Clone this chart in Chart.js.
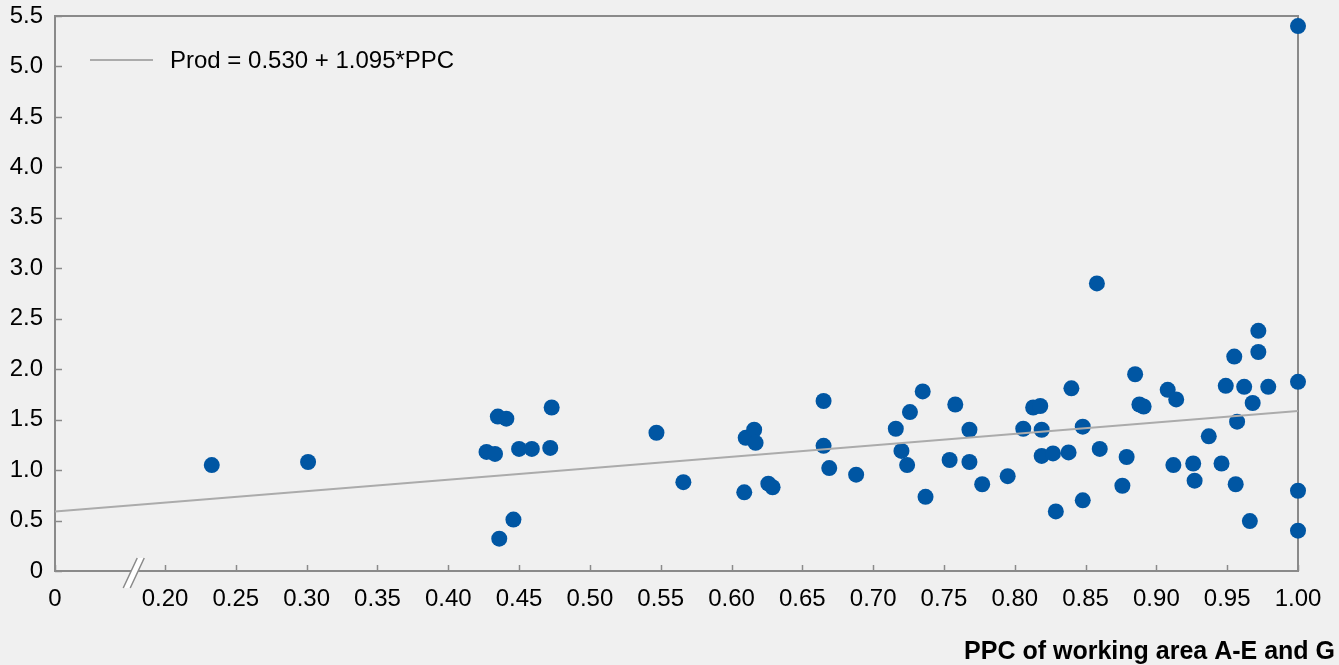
<!DOCTYPE html>
<html>
<head>
<meta charset="utf-8">
<script src="https://cdn.jsdelivr.net/npm/chart.js@4/dist/chart.umd.min.js"></script>
<style>
  html, body { margin: 0; padding: 0; background: #f0f0f0; }
  #wrap { position: relative; width: 1339px; height: 665px; }
</style>
</head>
<body>
<div id="wrap"><canvas id="prodChart"></canvas></div>
<script>
// PPC of working area (x) and productivity (y), one entry per site
const ppc = [
  0.233, 0.301, 0.427, 0.433, 0.435, 0.441, 0.450, 0.459, 0.472, 0.473,
  0.446, 0.436, 0.547, 0.566, 0.609, 0.610, 0.616, 0.617, 0.626, 0.629,
  0.665, 0.665, 0.669, 0.688, 0.716, 0.720, 0.724, 0.726, 0.735, 0.737,
  0.754, 0.758, 0.768, 0.768, 0.777, 0.795, 0.806, 0.813, 0.818, 0.819,
  0.819, 0.827, 0.829, 0.838, 0.840, 0.848, 0.848, 0.860, 0.858, 0.885,
  0.879, 0.876, 0.888, 0.891, 0.908, 0.914, 0.912, 0.926, 0.927, 0.937,
  0.946, 0.949, 0.955, 0.956, 0.957, 0.962, 0.966, 0.968, 0.972, 0.972,
  0.979, 1.000, 1.000, 1.000, 1.000
];
const prod = [
  1.05, 1.08, 1.18, 1.16, 1.53, 1.51, 1.21, 1.21, 1.22, 1.62,
  0.51, 0.32, 1.37, 0.88, 0.78, 1.32, 1.40, 1.27, 0.865, 0.83,
  1.685, 1.24, 1.02, 0.955, 1.41, 1.19, 1.05, 1.575, 1.78, 0.735,
  1.10, 1.65, 1.40, 1.08, 0.86, 0.94, 1.41, 1.62, 1.635, 1.40,
  1.14, 1.165, 0.59, 1.175, 1.81, 0.70, 1.43, 1.21, 2.85, 1.95,
  1.13, 0.845, 1.65, 1.63, 1.795, 1.70, 1.05, 1.065, 0.895, 1.335,
  1.065, 1.835, 2.125, 0.86, 1.48, 1.825, 0.495, 1.665, 2.17, 2.38,
  1.825, 1.875, 0.795, 0.40, 5.40
];

// the axis is broken: its left end is labelled "0"
const axisStart = 0.1223;

// regression line, end points
const fitLabel = 'Prod = 0.530 + 1.095*PPC';
const fitX = [axisStart, 1.0];
const fitY = [0.59, 1.585];

const xTickValues = [0.20, 0.25, 0.30, 0.35, 0.40, 0.45, 0.50, 0.55, 0.60,
                     0.65, 0.70, 0.75, 0.80, 0.85, 0.90, 0.95, 1.00];
const yTickValues = [0, 0.5, 1.0, 1.5, 2.0, 2.5, 3.0, 3.5, 4.0, 4.5, 5.0, 5.5];
const xTitle = 'PPC of working area A-E and G';

const AXIS_GREY = '#8a8a8a';
const FIT_GREY = '#ababab';
const FONT = 'Liberation Sans, Arial, sans-serif';

// frame, inward ticks, axis break, legend and the x title
const decorPlugin = {
    id: 'decor',
    beforeDatasetsDraw(chart) {
        const { ctx, chartArea: a, scales } = chart;
        ctx.save();
        ctx.strokeStyle = AXIS_GREY;
        ctx.lineWidth = 2;
        ctx.strokeRect(a.left, a.top, a.right - a.left, a.bottom - a.top);

        ctx.lineWidth = 1.5;
        ctx.beginPath();
        scales.x.ticks.forEach(t => {
            const px = Math.round(scales.x.getPixelForValue(t.value)) + 0.5;
            ctx.moveTo(px, a.bottom);
            ctx.lineTo(px, a.bottom - 6);
        });
        scales.y.ticks.forEach(t => {
            const py = Math.round(scales.y.getPixelForValue(t.value)) + 0.5;
            ctx.moveTo(a.left, py);
            ctx.lineTo(a.left + 7, py);
        });
        ctx.stroke();

        // "//" break between 0 and 0.20
        const p20 = scales.x.getPixelForValue(0.20);
        const bx = a.left + 0.72 * (p20 - a.left);
        const yb = a.bottom + 17, yt = a.bottom - 13;
        ctx.fillStyle = '#ffffff';
        ctx.beginPath();
        ctx.moveTo(bx - 11, yb);
        ctx.lineTo(bx - 4, yb);
        ctx.lineTo(bx + 10, yt);
        ctx.lineTo(bx + 3, yt);
        ctx.closePath();
        ctx.fill();
        ctx.beginPath();
        ctx.moveTo(bx - 11, yb); ctx.lineTo(bx + 3, yt);
        ctx.moveTo(bx - 4, yb); ctx.lineTo(bx + 10, yt);
        ctx.stroke();
        ctx.restore();
    },
    afterDraw(chart) {
        const { ctx, chartArea: a } = chart;
        ctx.save();
        // legend for the fitted line
        const ly = a.top + 44;
        ctx.strokeStyle = FIT_GREY;
        ctx.lineWidth = 2;
        ctx.beginPath();
        ctx.moveTo(a.left + 35, ly);
        ctx.lineTo(a.left + 98, ly);
        ctx.stroke();
        ctx.fillStyle = '#000000';
        ctx.font = '24px ' + FONT;
        ctx.textBaseline = 'middle';
        ctx.textAlign = 'left';
        ctx.fillText(fitLabel, a.left + 115, ly + 1);

        ctx.font = 'bold 25px ' + FONT;
        ctx.textAlign = 'right';
        ctx.textBaseline = 'alphabetic';
        ctx.fillText(xTitle, 1335, 659);
        ctx.restore();
    }
};

const ctx = document.getElementById('prodChart').getContext('2d');
const myChart = new Chart(ctx, {
    type: 'scatter',
    data: {
        datasets: [{
            type: 'line',
            label: fitLabel,
            data: fitX.map((x, i) => ({ x: x, y: fitY[i] })),
            borderColor: FIT_GREY,
            backgroundColor: FIT_GREY,
            borderWidth: 2,
            pointRadius: 0,
            fill: false
        }, {
            label: 'sites',
            data: ppc.map((x, i) => ({ x: x, y: prod[i] })),
            backgroundColor: '#0056a3',
            borderWidth: 0,
            pointRadius: 8,
            pointHoverRadius: 8,
            clip: false
        }]
    },
    options: {
        responsive: true,
        maintainAspectRatio: false,
        animation: false,
        layout: { padding: { top: 16, right: 41, left: 0, bottom: 0 } },
        plugins: {
            tooltip: { enabled: false },
            legend: { display: false }
        },
        scales: {
            x: {
                type: 'linear',
                min: axisStart,
                max: 1.0,
                afterBuildTicks: s => { s.ticks = [axisStart, ...xTickValues].map(v => ({ value: v })); },
                afterFit: s => { s.height = 94; },
                grid: { display: false, tickLength: 0 },
                border: { display: false },
                ticks: {
                    padding: 14,
                    maxRotation: 0,
                    autoSkip: false,
                    color: '#000000',
                    font: { family: FONT, size: 24 },
                    callback: v => v === axisStart ? '0' : v.toFixed(2)
                }
            },
            y: {
                min: 0,
                max: 5.5,
                afterBuildTicks: s => { s.ticks = yTickValues.map(v => ({ value: v })); },
                afterFit: s => { s.width = 55; s.paddingTop = 0; },
                grid: { display: false, tickLength: 0 },
                border: { display: false },
                ticks: {
                    padding: 12,
                    color: '#000000',
                    font: { family: FONT, size: 24 },
                    callback: v => v === 0 ? '0' : v.toFixed(1)
                }
            }
        }
    },
    plugins: [decorPlugin]
});
</script>
</body>
</html>
